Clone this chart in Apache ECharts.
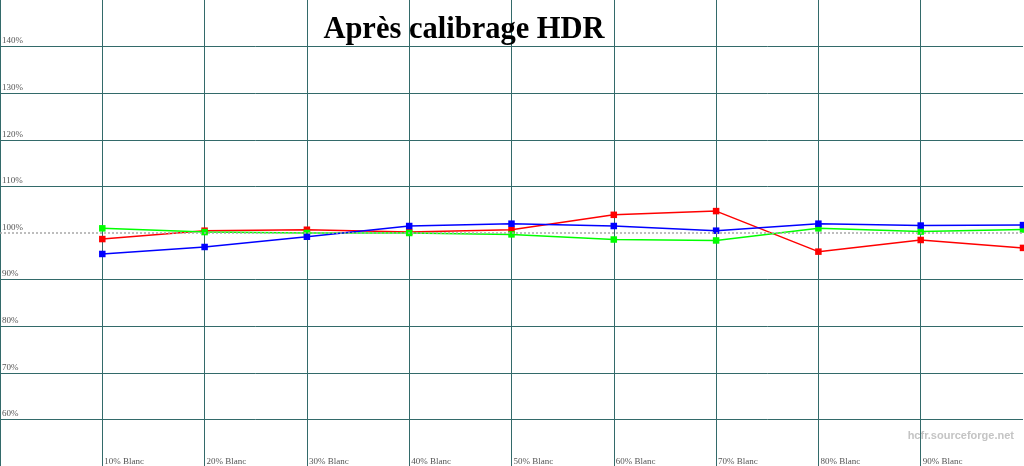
<!DOCTYPE html>
<html><head><meta charset="utf-8">
<script src="https://cdn.jsdelivr.net/npm/echarts@6/dist/echarts.min.js"></script>
<style>html,body{margin:0;padding:0;background:#fff}#c{width:1024px;height:466px}</style>
</head><body><div id="c"></div>
<script>
const xValues = [10, 20, 30, 40, 50, 60, 70, 80, 90, 100];
const xTickLabels = {10:'10% Blanc',20:'20% Blanc',30:'30% Blanc',40:'40% Blanc',50:'50% Blanc',60:'60% Blanc',70:'70% Blanc',80:'80% Blanc',90:'90% Blanc'};
const yTickLabels = {60:'60%',70:'70%',80:'80%',90:'90%',100:'100%',110:'110%',120:'120%',130:'130%',140:'140%'};
const redValues   = [98.7, 100.5, 100.7, 100.2, 100.7, 103.9, 104.7, 96.0, 98.5, 96.8];
const greenValues = [101.0, 100.2, 100.0, 100.0, 99.7, 98.6, 98.4, 101.0, 100.3, 100.75];
const blueValues  = [95.5, 97.0, 99.2, 101.5, 102.0, 101.5, 100.5, 102.0, 101.6, 101.7];
const referenceLevel = 100;

const gridColor = '#336a6a';
const none = 'rgba(0,0,0,0)';
const chart = echarts.init(document.getElementById('c'));
function mk(name, color, vals, extra) {
  return Object.assign({
    name, type: 'line', data: xValues.map((x, i) => [x, vals[i]]),
    symbol: 'rect', symbolSize: 6.5, showSymbol: true,
    lineStyle: { color, width: 1.5 }, itemStyle: { color },
    animation: false, z: 3
  }, extra || {});
}
chart.setOption({
  animation: false,
  title: {
    text: 'Après calibrage HDR', left: 459, top: 10, textAlign: 'center',
    textStyle: { fontFamily: 'Liberation Serif', fontWeight: 'bold', fontSize: 30.5, color: '#000' }
  },
  graphic: [{
    type: 'text', right: 10, top: 430,
    style: { text: 'hcfr.sourceforge.net', font: 'bold 11px "Liberation Sans"', fill: '#c4c4c4' }
  }],
  grid: { left: 0, top: 0, width: 1023, bottom: 0, containLabel: false, outerBoundsMode: 'none' },
  xAxis: {
    type: 'value', min: 0, max: 100, interval: 10,
    axisLine: { show: false }, axisTick: { show: false },
    splitLine: { show: true, showMaxLine: false, lineStyle: { color: gridColor, width: 1 } },
    axisLabel: {
      inside: true, margin: 0, align: 'left', verticalAlign: 'bottom',
      formatter: v => xTickLabels[v] || '', padding: [0, 0, 0, 2],
      fontFamily: 'Liberation Serif', fontSize: 9, color: '#555'
    }
  },
  yAxis: {
    type: 'value', min: 50, max: 150, interval: 10,
    axisLine: { show: false }, axisTick: { show: false },
    splitLine: { show: true, showMaxLine: false, lineStyle: {
      color: [gridColor, gridColor, gridColor, gridColor, gridColor, none, gridColor, gridColor, gridColor, gridColor, gridColor],
      width: 1 } },
    axisLabel: {
      inside: true, margin: 2, align: 'left', verticalAlign: 'bottom',
      formatter: v => yTickLabels[v] || '',
      fontFamily: 'Liberation Serif', fontSize: 9, color: '#555', padding: [0, 0, 1, 0]
    }
  },
  series: [
    mk('Rouge', '#ff0000', redValues, {
      markLine: {
        silent: true, symbol: 'none', label: { show: false },
        lineStyle: { color: '#a8a8a8', type: [2, 2], width: 1.5 },
        data: [{ yAxis: referenceLevel }]
      }
    }),
    mk('Vert', '#00ff00', greenValues),
    mk('Bleu', '#0000ff', blueValues)
  ]
});
</script></body></html>
